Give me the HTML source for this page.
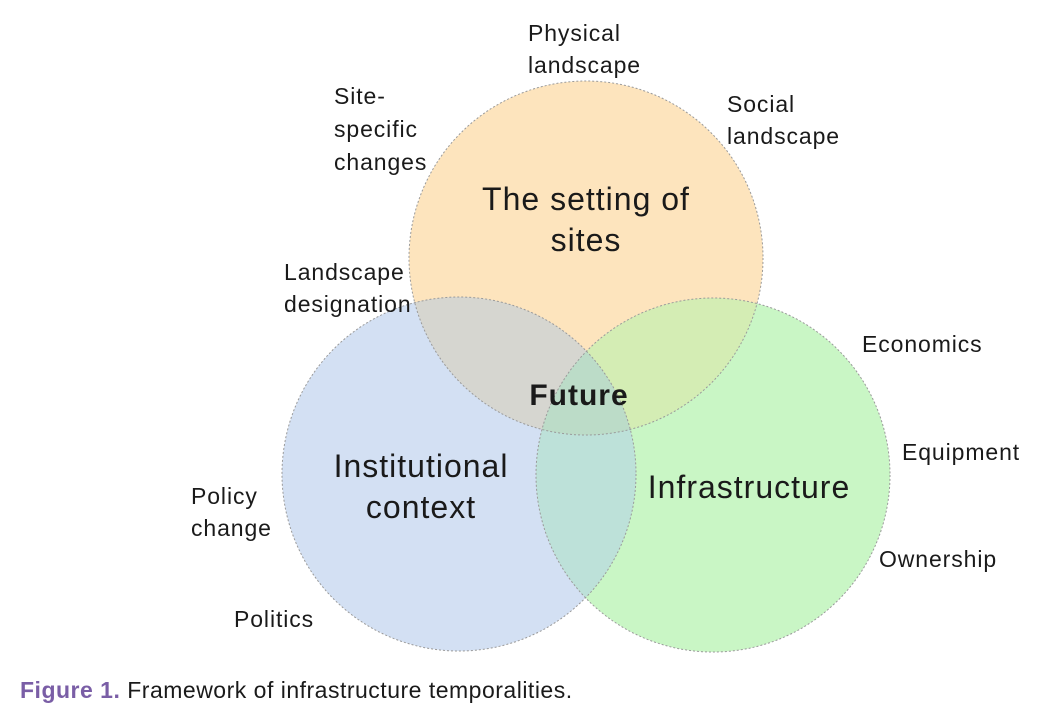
<!DOCTYPE html>
<html><head><style>
html,body{margin:0;padding:0;background:#fff;width:1043px;height:718px;overflow:hidden}
svg text{font-family:"Liberation Sans","DejaVu Sans",sans-serif;fill:#1a1a1a}
</style></head><body>
<svg width="1043" height="718" viewBox="0 0 1043 718" xmlns="http://www.w3.org/2000/svg">
<defs>
<clipPath id="cO"><circle cx="586" cy="258" r="177"/></clipPath>
<clipPath id="cB"><circle cx="459" cy="474" r="177"/></clipPath>
</defs>
<circle cx="586" cy="258" r="177" fill="#fde4bd"/>
<circle cx="459" cy="474" r="177" fill="#d3e0f3"/>
<circle cx="713" cy="475" r="177" fill="#c9f6c5"/>
<g clip-path="url(#cO)"><circle cx="459" cy="474" r="177" fill="#d6d6d0"/><circle cx="713" cy="475" r="177" fill="#d4edb4"/></g>
<g clip-path="url(#cB)"><circle cx="713" cy="475" r="177" fill="#bde1d9"/></g>
<g clip-path="url(#cO)"><g clip-path="url(#cB)"><circle cx="713" cy="475" r="177" fill="#bcdcc8"/></g></g>
<g fill="none" stroke="#9a9a9a" stroke-width="1" stroke-dasharray="2,2">
<circle cx="586" cy="258" r="177"/><circle cx="459" cy="474" r="177"/><circle cx="713" cy="475" r="177"/></g>
<g font-size="23" letter-spacing="0.9">
<text x="528" y="41">Physical</text><text x="528" y="73">landscape</text>
<text x="334" y="104">Site-</text><text x="334" y="137">specific</text><text x="334" y="170">changes</text>
<text x="727" y="112">Social</text><text x="727" y="144">landscape</text>
<text x="284" y="280">Landscape</text><text x="284" y="312">designation</text>
<text x="862" y="352">Economics</text>
<text x="902" y="460">Equipment</text>
<text x="879" y="567">Ownership</text>
<text x="191" y="504">Policy</text><text x="191" y="536">change</text>
<text x="234" y="627">Politics</text>
</g>
<g font-size="32" text-anchor="middle" letter-spacing="1">
<text x="586" y="210">The setting of</text><text x="586" y="251">sites</text>
<text x="421" y="477">Institutional</text><text x="421" y="518">context</text>
<text x="749" y="498">Infrastructure</text>
</g>
<text x="579" y="405" font-size="30" font-weight="bold" text-anchor="middle" letter-spacing="1">Future</text>
<text x="20" y="698" font-size="23" letter-spacing="0.5"><tspan font-weight="bold" style="fill:#7a5ea6">Figure 1.</tspan> Framework of infrastructure temporalities.</text>
</svg>
</body></html>
